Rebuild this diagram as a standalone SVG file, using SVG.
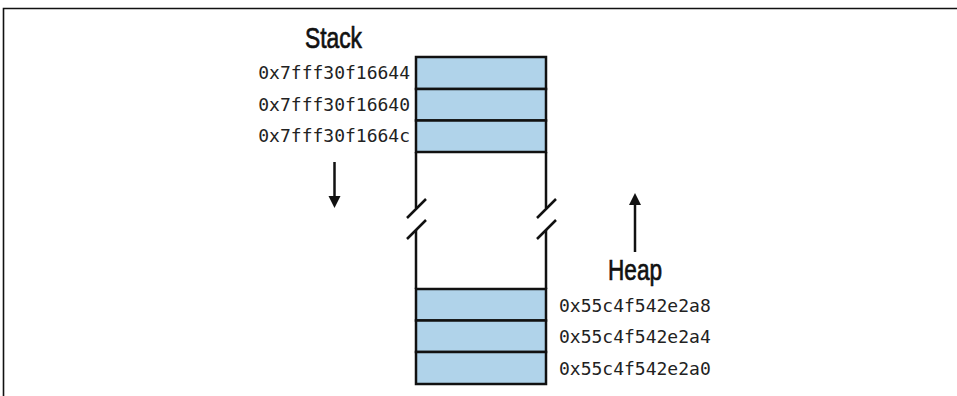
<svg xmlns="http://www.w3.org/2000/svg" width="957" height="396" viewBox="0 0 957 396">
<style>
.cell{fill:#b0d3ea;stroke:#111;stroke-width:2.5}
.side{fill:none;stroke:#111;stroke-width:2.5}
.addr{font-family:"DejaVu Sans Mono","Liberation Mono",monospace;font-size:18px;fill:#222}
.title{font-family:"Liberation Sans",Arial,sans-serif;font-size:29px;fill:#111;stroke:#111;stroke-width:0.7}
.arr{stroke:#111;stroke-width:2.5;fill:none}
.head{fill:#111}
.border{stroke:#111;stroke-width:1.6;fill:none}
</style>
<path class="border" d="M3.5,396 V8.5 H957"/>
<g id="stack-label"><text class="title" x="305" y="48" textLength="57" lengthAdjust="spacingAndGlyphs">Stack</text></g>
<g id="heap-label"><text class="title" x="608" y="280" textLength="54" lengthAdjust="spacingAndGlyphs">Heap</text></g>
<g id="memory">
<path class="side" d="M416,152 V208 M546,152 V208 M416,230 V289 M546,230 V289"/>
<path class="side" d="M407,218 L426,199 M407,239 L426,220 M537,218 L556,199 M537,239 L556,220"/>
</g>
<g id="stack-0"><rect class="cell" x="416" y="57" width="130" height="32"/><text class="addr" x="410" y="79" text-anchor="end">0x7fff30f16644</text></g>
<g id="stack-1"><rect class="cell" x="416" y="89" width="130" height="31.5"/><text class="addr" x="410" y="110.5" text-anchor="end">0x7fff30f16640</text></g>
<g id="stack-2"><rect class="cell" x="416" y="120.5" width="130" height="31.5"/><text class="addr" x="410" y="142" text-anchor="end">0x7fff30f1664c</text></g>
<g id="heap-0"><rect class="cell" x="416" y="289" width="130" height="31.5"/><text class="addr" x="559" y="311.5">0x55c4f542e2a8</text></g>
<g id="heap-1"><rect class="cell" x="416" y="320.5" width="130" height="31.5"/><text class="addr" x="559" y="343">0x55c4f542e2a4</text></g>
<g id="heap-2"><rect class="cell" x="416" y="352" width="130" height="32"/><text class="addr" x="559" y="374.5">0x55c4f542e2a0</text></g>
<g id="connectors">
<line class="arr" x1="334.5" y1="162" x2="334.5" y2="198"/>
<polygon class="head" points="328.5,196 340.5,196 334.5,208"/>
<line class="arr" x1="635" y1="252" x2="635" y2="203"/>
<polygon class="head" points="629,205 641,205 635,193"/>
</g>
</svg>
